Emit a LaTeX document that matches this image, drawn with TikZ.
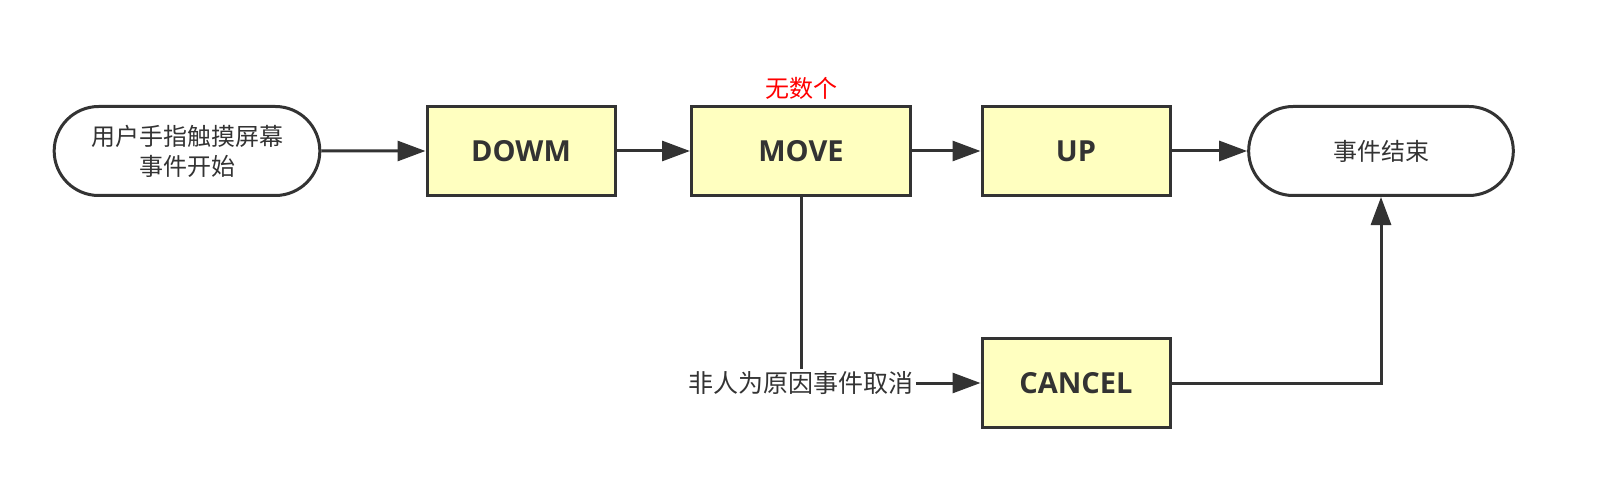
\documentclass[tikz,border=0pt]{standalone}
\usepackage{fontspec}
\setmainfont{Open Sans}
\newfontfamily\cjk{Noto Sans CJK SC}
\usetikzlibrary{arrows.meta,shapes.misc}
\definecolor{ink}{HTML}{333333}
\definecolor{boxfill}{HTML}{FFFFC0}
\tikzset{
  stepbox/.style={draw=ink, line width=1.5pt, fill=boxfill, minimum height=44.5pt,
    font=\bfseries\fontsize{14.5}{16}\selectfont, text=ink},
  endbox/.style={draw=ink, line width=1.5pt, rounded rectangle, minimum height=44.5pt,
    font=\cjk\fontsize{12}{15}\selectfont, text=ink, align=center},
  flow/.style={draw=ink, line width=1.5pt, -{Triangle[length=14pt,width=10pt]}}
}
\begin{document}
\begin{tikzpicture}[x=0.5pt,y=-0.5pt]
  \useasboundingbox (0,0) rectangle (1618,492);

  % nodes
  \node[endbox, minimum width=139.5pt] (start) at (187,151) {用户手指触摸屏幕\\事件开始};
  \node[stepbox, minimum width=94pt] (down) at (521,151) {DOWM};
  \node[stepbox, minimum width=109.5pt] (move) at (801,151) {MOVE};
  \node[stepbox, minimum width=94pt] (up) at (1076,151) {UP};
  \node[endbox, minimum width=139pt] (finish) at (1381,151) {事件结束};
  \node[stepbox, minimum width=94pt] (cancel) at (1076,383) {CANCEL};

  % labels
  \node[font=\cjk\fontsize{12}{14}\selectfont, text=red] (many) at (801,88) {无数个};
  \node[font=\cjk\fontsize{12.5}{14}\selectfont, text=ink, inner sep=1pt] (reason) at (801,383) {非人为原因事件取消};

  % connectors
  \draw[flow] (start) -- (down);
  \draw[flow] (down) -- (move);
  \draw[flow] (move) -- (up);
  \draw[flow] (up) -- (finish);
  \draw[draw=ink, line width=1.5pt] (move.south) -- (reason.north);
  \draw[flow] (reason) -- (cancel);
  \draw[flow] (cancel.east) -| (finish.south);
\end{tikzpicture}
\end{document}
